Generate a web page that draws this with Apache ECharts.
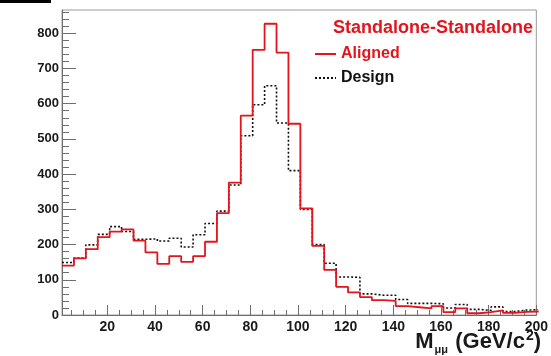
<!DOCTYPE html>
<html>
<head>
<meta charset="utf-8">
<script src="https://cdn.jsdelivr.net/npm/echarts@6/dist/echarts.min.js"></script>
<style>
html, body { margin: 0; padding: 0; background: #fff; }
#chart { width: 551px; height: 356px; }
</style>
</head>
<body>
<div id="chart"></div>
<script>
// bin low edges (GeV/c^2), width 5, last one closes the histogram
const binEdges = [1, 6, 11, 16, 21, 26, 31, 36, 41, 46, 51, 56, 61, 66, 71, 76, 81, 86, 91, 96,
    101, 106, 111, 116, 121, 126, 131, 136, 141, 146, 151, 156, 161, 166, 171, 176, 181, 186, 191, 196, 201];

// Aligned (red)
const alignedCounts = [140, 161, 187, 221, 237, 243, 211, 178, 145, 167, 151, 167, 208, 289, 376, 566, 753, 827, 745, 543,
    303, 196, 128, 80, 64, 51, 42, 40, 25, 22, 19, 25, 8, 19, 5, 8, 13, 6, 9, 10];

// Design (black dotted)
const designCounts = [149, 162, 199, 229, 251, 237, 215, 216, 210, 218, 193, 228, 260, 295, 369, 509, 597, 651, 545, 410,
    300, 200, 147, 108, 107, 60, 56, 56, 44, 33, 33, 32, 20, 30, 16, 13, 23, 10, 14, 15];

const xMajorTicks = [20, 40, 60, 80, 100, 120, 140, 160, 180, 200];
const xMinorTicks = [5, 10, 15, 25, 30, 35, 45, 50, 55, 65, 70, 75, 85, 90, 95, 105, 110, 115,
    125, 130, 135, 145, 150, 155, 165, 170, 175, 185, 190, 195];
const yMajorTicks = [0, 100, 200, 300, 400, 500, 600, 700, 800];
const yMinorTicks = [20, 40, 60, 80, 120, 140, 160, 180, 220, 240, 260, 280, 320, 340, 360, 380,
    420, 440, 460, 480, 520, 540, 560, 580, 620, 640, 660, 680, 720, 740, 760, 780, 820, 840, 860];

const RED = '#e4141c';
const AXIS = '#6e6e6e';
const FONT = 'Liberation Sans, Arial, sans-serif';

// histogram as step line: [lowEdge, count] + closing point
function toSteps(counts) {
    let pts = [];
    counts.forEach(function (c, i) {
        pts.push([binEdges[i], c]);
    });
    pts.push([binEdges[counts.length], counts[counts.length - 1]]);
    return pts;
}

let myChart = echarts.init(document.getElementById('chart'));
let option = {
    animation: false,
    backgroundColor: '#fff',
    title: {
        text: 'Standalone-Standalone',
        right: 13,
        top: 14,
        textStyle: { color: RED, fontFamily: FONT, fontWeight: 'bold', fontSize: 18 }
    },
    legend: {
        orient: 'vertical',
        left: 309,
        top: 41,
        itemWidth: 21,
        itemHeight: 14,
        itemGap: 8,
        itemStyle: { opacity: 0 },
        textStyle: { fontFamily: FONT, fontWeight: 'bold', fontSize: 16 },
        data: [
            { name: 'Aligned', textStyle: { color: RED } },
            { name: 'Design', textStyle: { color: '#111' } }
        ]
    },
    grid: {
        left: 62, right: 10, top: 10, bottom: 41,
        show: true,
        borderColor: '#9a9a9a',
        borderWidth: 1
    },
    xAxis: [{
        type: 'value',
        min: 1,
        max: 200,
        axisLine: { show: true, lineStyle: { color: AXIS, width: 1 } },
        axisTick: { show: true, inside: true, length: 10, customValues: xMajorTicks, lineStyle: { color: AXIS } },
        axisLabel: {
            customValues: xMajorTicks,
            margin: 5,
            color: '#1a1a1a',
            fontFamily: FONT,
            fontWeight: 'bold',
            fontSize: 14
        },
        splitLine: { show: false }
    }, {
        type: 'value',
        min: 1,
        max: 200,
        position: 'bottom',
        axisLine: { show: false },
        axisTick: { show: true, inside: true, length: 5, customValues: xMinorTicks, lineStyle: { color: AXIS } },
        axisLabel: { show: false },
        splitLine: { show: false }
    }],
    yAxis: [{
        type: 'value',
        min: 0,
        max: 866,
        axisLine: { show: true, lineStyle: { color: AXIS, width: 1 } },
        axisTick: { show: true, inside: true, length: 14, customValues: yMajorTicks, lineStyle: { color: AXIS } },
        axisLabel: {
            customValues: yMajorTicks,
            margin: 3,
            color: '#1a1a1a',
            fontFamily: FONT,
            fontWeight: 'bold',
            fontSize: 13
        },
        splitLine: { show: false }
    }, {
        type: 'value',
        min: 0,
        max: 866,
        position: 'left',
        axisLine: { show: false },
        axisTick: { show: true, inside: true, length: 7, customValues: yMinorTicks, lineStyle: { color: AXIS } },
        axisLabel: { show: false },
        splitLine: { show: false }
    }],
    series: [{
        name: 'Design',
        type: 'line',
        step: 'end',
        symbol: 'none',
        xAxisIndex: 0,
        yAxisIndex: 0,
        lineStyle: { color: '#111', width: 1.6, type: [2, 2] },
        itemStyle: { color: '#111' },
        data: toSteps(designCounts)
    }, {
        name: 'Aligned',
        type: 'line',
        step: 'end',
        symbol: 'none',
        xAxisIndex: 0,
        yAxisIndex: 0,
        lineStyle: { color: RED, width: 1.8 },
        itemStyle: { color: RED },
        data: toSteps(alignedCounts)
    }],
    graphic: [{
        type: 'rect',
        left: 0,
        top: 0,
        shape: { width: 51, height: 3 },
        style: { fill: '#000' }
    }, {
        type: 'text',
        right: 10,
        bottom: 1,
        style: {
            text: '{m|M}{sub|μμ}{m| (GeV/c}{sup|2}{m|)}',
            fill: '#1a1a1a',
            rich: {
                m: { fontFamily: FONT, fontWeight: 'bold', fontSize: 22, lineHeight: 26 },
                sub: { fontFamily: FONT, fontWeight: 'bold', fontSize: 11, lineHeight: 11, verticalAlign: 'bottom', padding: [0, 1, 0, 1] },
                sup: { fontFamily: FONT, fontWeight: 'bold', fontSize: 14, lineHeight: 14, verticalAlign: 'top', padding: [0, 0, 0, 1] }
            }
        }
    }]
};
myChart.setOption(option);
</script>
</body>
</html>
